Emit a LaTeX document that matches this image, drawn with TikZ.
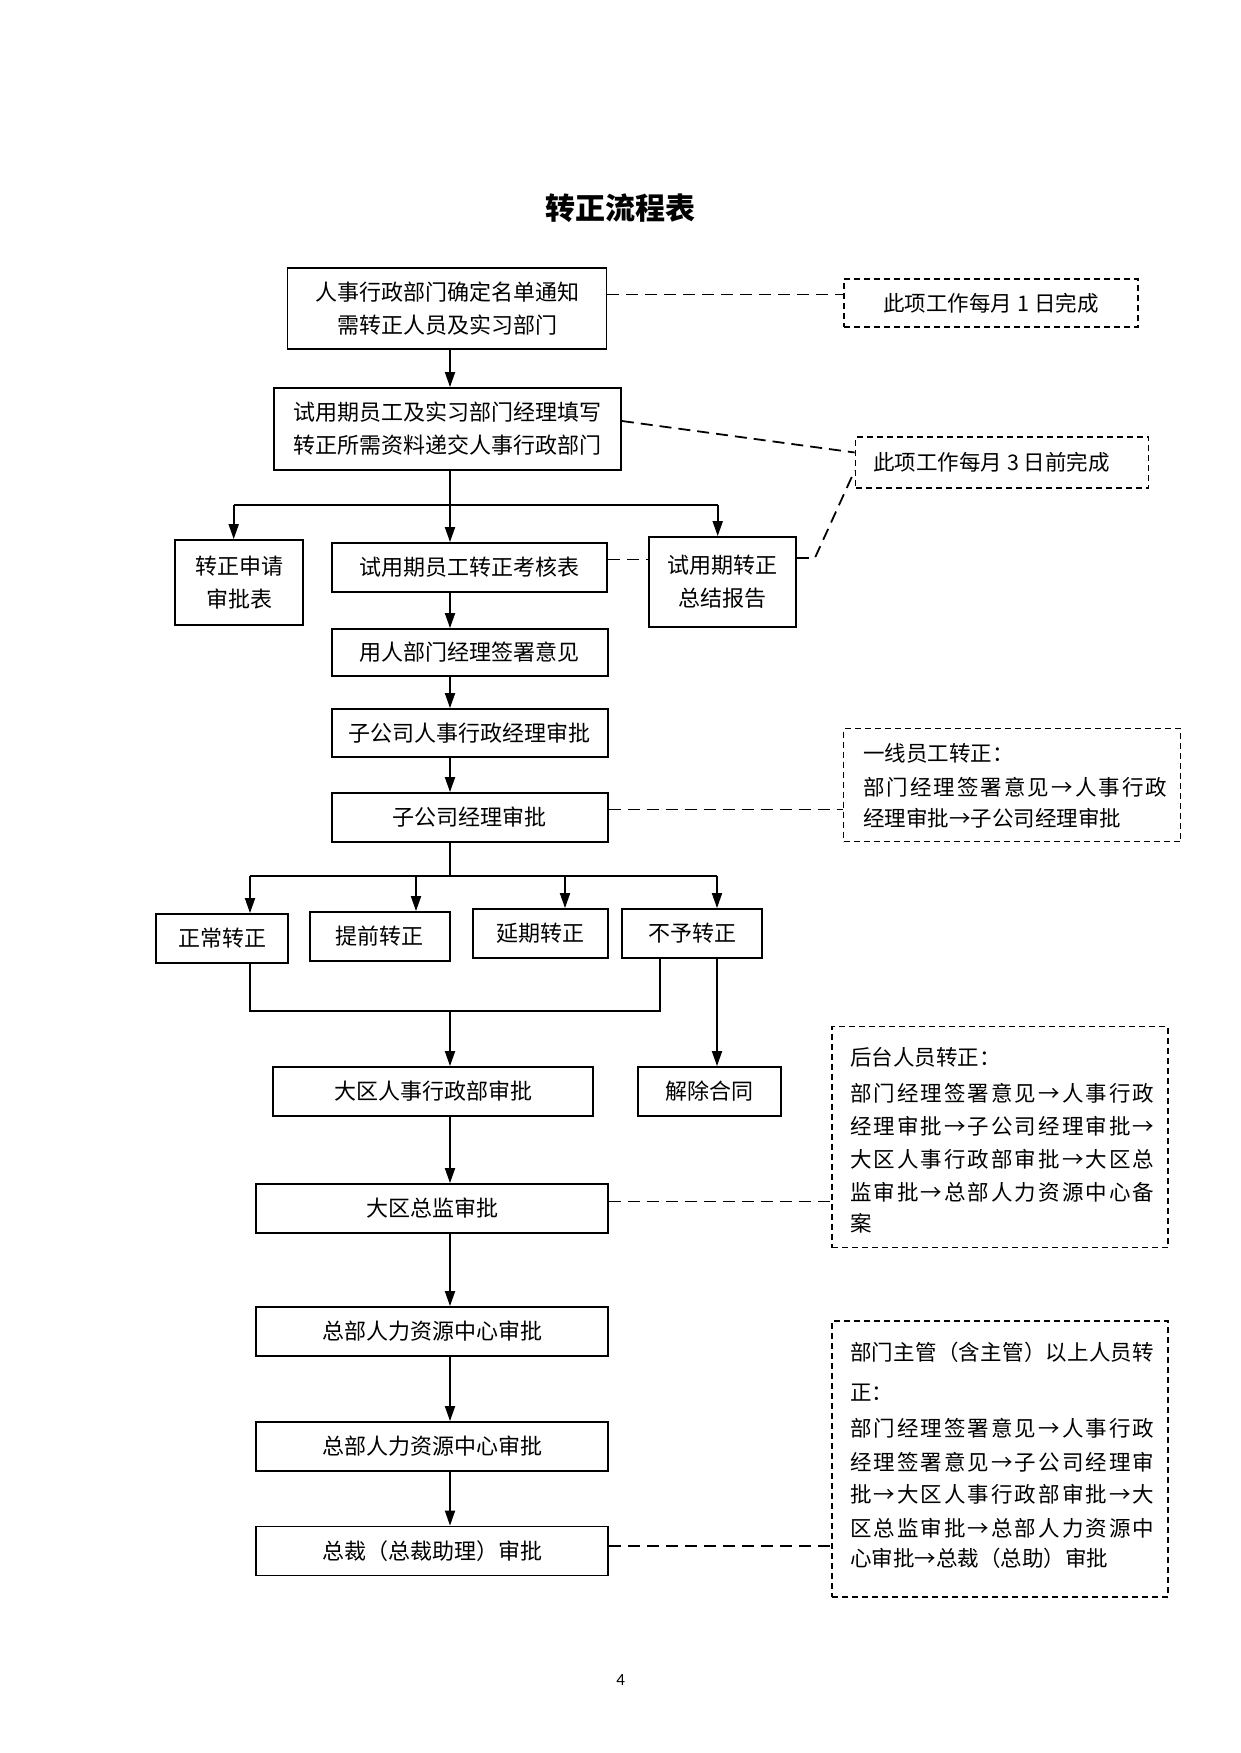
\documentclass[tikz,border=0pt]{standalone}
\usepackage{fontspec}
\setmainfont{Noto Sans CJK SC}
\newfontfamily\latinfont{Carlito}
\usetikzlibrary{arrows.meta}
\def\spreadA#1{\ifx\relax#1\unskip\else#1\hskip0pt plus 1fil\expandafter\spreadA\fi}
\newcommand\jline[1]{\hbox to 304pt{\spreadA#1\relax}}
\begin{document}
\begin{tikzpicture}[x=1pt,y=-1pt,
  box/.style={draw,line width=1.8pt,inner sep=0pt,align=center,font=\fontsize{22}{33}\selectfont},
  note/.style={draw,line width=1.6pt,dash pattern=on 6pt off 4pt,inner sep=0pt,font=\fontsize{21.5}{26}\selectfont},
  ntext/.style={anchor=west,inner sep=0pt,font=\fontsize{21.5}{26}\selectfont},
  ln/.style={line width=1.8pt},
  arr/.style={line width=1.8pt,-{Triangle[length=15pt,width=10pt]}},
  dline/.style={line width=1.8pt,dash pattern=on 12pt off 7pt}]
\fill[white] (0,0) rectangle (1240,1753);
\useasboundingbox (0,0) rectangle (1240,1753);

\node[font=\fontsize{30}{36}\selectfont\bfseries] (title) at (620,208) {转正流程表};

% main boxes
\node[box,minimum width=319pt,minimum height=81pt] (b1) at (447,308.5) {人事行政部门确定名单通知\\需转正人员及实习部门};
\node[box,minimum width=347pt,minimum height=82pt] (b2) at (447.5,429) {试用期员工及实习部门经理填写\\转正所需资料递交人事行政部门};
\node[box,minimum width=128pt,minimum height=85pt] (f1) at (239,582.5) {转正申请\\审批表};
\node[box,minimum width=275pt,minimum height=49pt] (f2) at (469.5,567.5) {试用期员工转正考核表};
\node[box,minimum width=147pt,minimum height=90pt] (f3) at (722.5,582) {试用期转正\\总结报告};
\node[box,minimum width=276pt,minimum height=47pt] (s1) at (469.8,652.5) {用人部门经理签署意见};
\node[box,minimum width=276pt,minimum height=48pt] (s2) at (469.8,733) {子公司人事行政经理审批};
\node[box,minimum width=276pt,minimum height=49pt] (s3) at (469.8,817.5) {子公司经理审批};
\node[box,minimum width=132pt,minimum height=49pt] (r1) at (222,938.5) {正常转正};
\node[box,minimum width=140pt,minimum height=49pt] (r2) at (379.6,936.5) {提前转正};
\node[box,minimum width=135pt,minimum height=49pt] (r3) at (540.5,933.5) {延期转正};
\node[box,minimum width=140pt,minimum height=49pt] (r4) at (692,933.5) {不予转正};
\node[box,minimum width=320pt,minimum height=49pt] (d1) at (433,1091.5) {大区人事行政部审批};
\node[box,minimum width=143pt,minimum height=49pt] (d2) at (709.5,1091.5) {解除合同};
\node[box,minimum width=352pt,minimum height=49pt] (d3) at (432,1208.5) {大区总监审批};
\node[box,minimum width=352pt,minimum height=49pt] (d4) at (432,1331.5) {总部人力资源中心审批};
\node[box,minimum width=352pt,minimum height=49pt] (d5) at (432,1446.5) {总部人力资源中心审批};
\node[box,minimum width=352pt,minimum height=49pt] (d6) at (432,1551) {总裁（总裁助理）审批};

% notes
\node[note,minimum width=294pt,minimum height=48pt] (n1) at (991,303) {此项工作每月 1 日完成};
\node[note,minimum width=293pt,minimum height=51pt] (n2) at (1002,462.5) {};
\node[ntext] (n2t) at (873,462) {此项工作每月 3 日前完成};
\node[note,minimum width=337pt,minimum height=113pt] (n3) at (1012,785) {};
\node[ntext] (n3a) at (863,753) {一线员工转正：};
\node[ntext] (n3b) at (863,787) {\jline{部门经理签署意见→人事行政}};
\node[ntext] (n3c) at (863,818) {经理审批→子公司经理审批};
\node[note,minimum width=336pt,minimum height=221pt] (n4) at (1000,1137) {};
\node[ntext] (n4a) at (850,1057) {后台人员转正：};
\node[ntext] (n4b) at (850,1093) {\jline{部门经理签署意见→人事行政}};
\node[ntext] (n4c) at (850,1126) {\jline{经理审批→子公司经理审批→}};
\node[ntext] (n4d) at (850,1159) {\jline{大区人事行政部审批→大区总}};
\node[ntext] (n4e) at (850,1192) {\jline{监审批→总部人力资源中心备}};
\node[ntext] (n4f) at (850,1223) {案};
\node[note,minimum width=336pt,minimum height=276pt] (n5) at (1000,1459) {};
\node[ntext] (n5a) at (850,1352) {\jline{部门主管（含主管）以上人员转}};
\node[ntext] (n5b) at (850,1393) {正：};
\node[ntext] (n5c) at (850,1428) {\jline{部门经理签署意见→人事行政}};
\node[ntext] (n5d) at (850,1462) {\jline{经理签署意见→子公司经理审}};
\node[ntext] (n5e) at (850,1494) {\jline{批→大区人事行政部审批→大}};
\node[ntext] (n5f) at (850,1528) {\jline{区总监审批→总部人力资源中}};
\node[ntext] (n5g) at (850,1558) {心审批→总裁（总助）审批};

\node[font=\latinfont\fontsize{17}{20}\selectfont] (pg) at (620.6,1680) {4};

% helper coordinates
\coordinate (t) at (450,0);
\coordinate (brA) at (450,505);
\coordinate (brAL) at (233.7,505);
\coordinate (brAR) at (717.7,505);
\coordinate (brB) at (450,876);
\coordinate (brBL) at (250,876);
\coordinate (brBR) at (717,876);
\coordinate (pB2) at (416,876);
\coordinate (pB3) at (565,876);
\coordinate (mL) at (250,1011);
\coordinate (mM) at (450,1011);
\coordinate (mR) at (660,1011);

% solid connectors
\draw[arr] (b1.south -| t) -- (b2.north -| t);
\draw[ln] (b2.south -| t) -- (brA);
\draw[ln] (brAL) -- (brAR);
\draw[arr] (brAL) -- (brAL |- f1.north);
\draw[arr] (brA) -- (brA |- f2.north);
\draw[arr] (brAR) -- (brAR |- f3.north);
\draw[arr] (f2.south -| t) -- (s1.north -| t);
\draw[arr] (s1.south -| t) -- (s2.north -| t);
\draw[arr] (s2.south -| t) -- (s3.north -| t);
\draw[ln] (s3.south -| t) -- (brB);
\draw[ln] (brBL) -- (brBR);
\draw[arr] (brBL) -- (brBL |- r1.north);
\draw[arr] (pB2) -- (pB2 |- r2.north);
\draw[arr] (pB3) -- (pB3 |- r3.north);
\draw[arr] (brBR) -- (brBR |- r4.north);
\draw[ln] (r1.south -| mL) -- (mL) -- (mR) -- (r4.south -| mR);
\draw[arr] (mM) -- (d1.north -| mM);
\draw[arr] (r4.south -| brBR) -- (d2.north -| brBR);
\draw[arr] (d1.south -| t) -- (d3.north -| t);
\draw[arr] (d3.south -| t) -- (d4.north -| t);
\draw[arr] (d4.south -| t) -- (d5.north -| t);
\draw[arr] (d5.south -| t) -- (d6.north -| t);

% dashed connectors
\draw[dline] ([yshift=14pt]b1.east) -- ([yshift=14pt]b1.east -| n1.west);
\draw[dline] ([yshift=8pt]b2.east) -- ([yshift=10pt]n2.west);
\draw[dline] ([yshift=8pt]f2.east) -- ([yshift=8pt]f2.east -| f3.west);
\draw[dline] ([yshift=24pt]f3.east) -- ++(18,0) -- ([yshift=-8pt]n2.west);
\draw[dline] ([yshift=8pt]s3.east) -- ([yshift=8pt]s3.east -| n3.west);
\draw[dline] ([yshift=7pt]d3.east) -- ([yshift=7pt]d3.east -| n4.west);
\draw[dline] ([yshift=5pt]d6.east) -- ([yshift=5pt]d6.east -| n5.west);
\end{tikzpicture}
\end{document}
